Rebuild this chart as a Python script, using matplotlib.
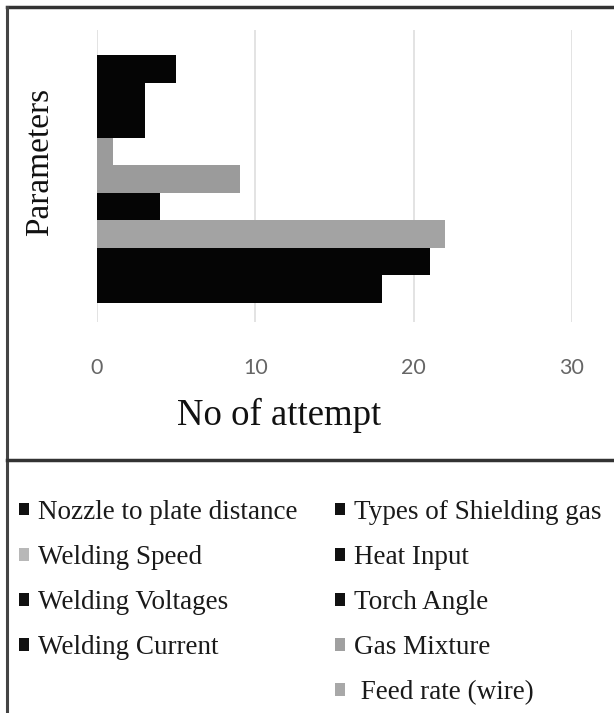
import matplotlib.pyplot as plt
from matplotlib.patches import Patch
from matplotlib.lines import Line2D

# === Data (series in legend order, first series drawn at bottom) ===
parameters = ["Nozzle to plate distance", "Welding Speed", "Welding Voltages",
              "Welding Current", "Types of Shielding gas", "Heat Input",
              "Torch Angle", "Gas Mixture", " Feed rate (wire)"]
attempts = [18, 21, 22, 4, 9, 1, 3, 3, 5]
x_ticks = [0, 10, 20, 30]

# colours as they appear (greyscale print of the original)
bar_colors = ["#050505", "#050505", "#a3a3a3", "#050505", "#9b9b9b",
              "#9b9b9b", "#050505", "#050505", "#050505"]
legend_colors = ["#111111", "#b8b8b8", "#111111", "#111111", "#111111",
                 "#111111", "#111111", "#a0a0a0", "#a8a8a8"]

W, H = 614, 713
fig = plt.figure(figsize=(W / 100, H / 100), dpi=100)
fig.patch.set_facecolor("white")

ax = fig.add_axes([97 / W, 1 - 322 / H, 475 / W, 292 / H])
ax.set_facecolor("none")

for i, (val, col) in enumerate(zip(attempts, bar_colors)):
    ax.barh(i, val, height=1.0, color=col, zorder=3)

ax.set_xlim(0, 30)
ax.set_ylim(-1.19, 9.41)
ax.set_xticks(x_ticks)
ax.set_yticks([])
ax.grid(axis="x", color="#dedede", linewidth=1.2, zorder=0)
for s in ax.spines.values():
    s.set_visible(False)
ax.tick_params(axis="x", length=0, pad=26, labelsize=15.5, labelcolor="#666666")
for lbl in ax.get_xticklabels():
    lbl.set_fontfamily("Lato")

fig.text(279 / W, 1 - 415 / H, "No of attempt", family="Liberation Serif",
         fontsize=26.5, ha="center", va="center", color="#111111")
fig.text(40 / W, 1 - 162 / H, "Parameters", family="Liberation Serif",
         fontsize=24, rotation=90, ha="center", va="center", color="#111111")

# === Legend: two columns built by hand ===
handles = [Patch(facecolor=c) for c in legend_colors]
leg_kw = dict(frameon=False, prop={"family": "Liberation Serif", "size": 19.5},
              handlelength=0.36, handleheight=0.33, handletextpad=0.36,
              labelspacing=0.74, borderaxespad=0, borderpad=0,
              labelcolor="#1a1a1a")
fig.legend(handles[:4], parameters[:4], loc="upper left",
           bbox_to_anchor=(19 / W, 1 - 500 / H), **leg_kw)
fig.legend(handles[4:], parameters[4:], loc="upper left",
           bbox_to_anchor=(335 / W, 1 - 500 / H), **leg_kw)

# === Frames ===
fig.add_artist(Line2D([7 / W, 1.0], [1 - 7 / H, 1 - 7 / H], color="#333333", lw=2.5))
fig.add_artist(Line2D([7 / W, 7 / W], [1 - 7 / H, 0], color="#444444", lw=2.2))
fig.add_artist(Line2D([7 / W, 1.0], [1 - 460 / H, 1 - 460 / H], color="#333333", lw=2.5))

fig.savefig("out.png", dpi=100)
